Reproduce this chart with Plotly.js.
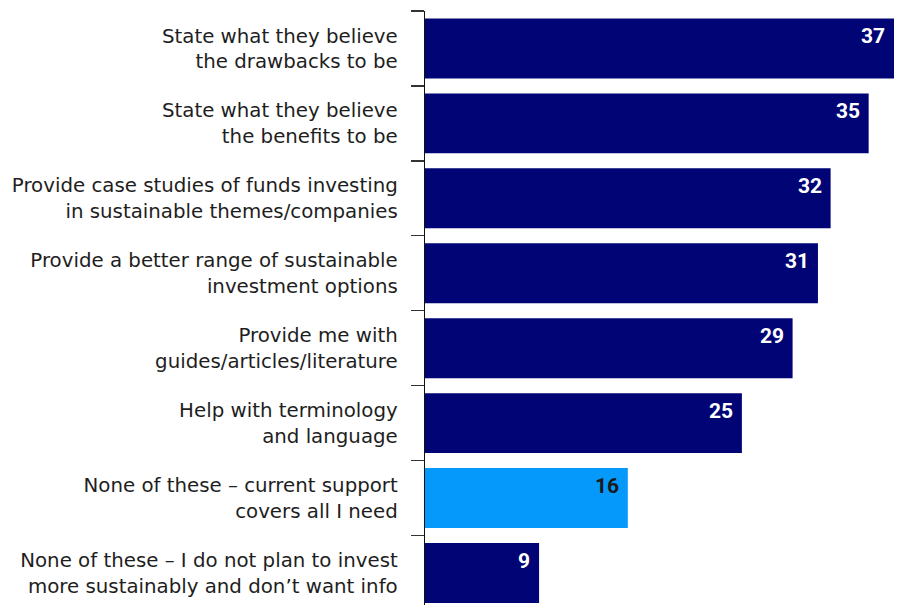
<!DOCTYPE html>
<html><head><meta charset="utf-8">
<script src="https://cdn.plot.ly/plotly-3.0.1.min.js"></script>
<style>html,body{margin:0;padding:0;overflow:hidden;background:#fff}#chart{width:899px;height:605px}</style>
</head><body><div id="chart"></div>
<script>
const categories = [
  "State what they believe<br>the drawbacks to be",
  "State what they believe<br>the benefits to be",
  "Provide case studies of funds investing<br>in sustainable themes/companies",
  "Provide a better range of sustainable<br>investment options",
  "Provide me with<br>guides/articles/literature",
  "Help with terminology<br>and language",
  "None of these – current support<br>covers all I need",
  "None of these – I do not plan to invest<br>more sustainably and don’t want info"
];
const values = [37, 35, 32, 31, 29, 25, 16, 9];
const barColors = ["#000475","#000475","#000475","#000475","#000475","#000475","#0599FB","#000475"];
const labelColors = ["#ffffff","#ffffff","#ffffff","#ffffff","#ffffff","#ffffff","#1a1a1a","#ffffff"];

const trace = {
  type: "bar", orientation: "h",
  x: values, y: categories,
  marker: {color: barColors},
  width: 0.8, hoverinfo: "none"
};
const annotations = values.map((v, i) => ({
  x: v, y: categories[i], xref: "x", yref: "y",
  text: String(v), showarrow: false, xanchor: "right", yanchor: "middle",
  xshift: -7, yshift: 12,
  font: {family: "Roboto, Arial, sans-serif", size: 21, color: labelColors[i], weight: 700}
}));
const layout = {
  width: 899, height: 605,
  margin: {l: 425, r: 5, t: 10.5, b: 0},
  paper_bgcolor: "#fff", plot_bgcolor: "#fff",
  showlegend: false,
  xaxis: {range: [0, 37], visible: false, fixedrange: true},
  yaxis: {
    type: "category", range: [7.427, -0.5],
    showline: true, linecolor: "#111", linewidth: 1.3,
    ticks: "outside", ticklen: 13, tickcolor: "#333", tickwidth: 1.3,
    tickson: "boundaries", showgrid: false, zeroline: false,
    ticklabelstandoff: 22,
    tickfont: {family: "'DejaVu Sans', sans-serif", size: 19.8, color: "#1e1e1e"}
  },
  annotations: annotations
};
Plotly.newPlot("chart", [trace], layout, {displayModeBar: false, staticPlot: true});
</script></body></html>
